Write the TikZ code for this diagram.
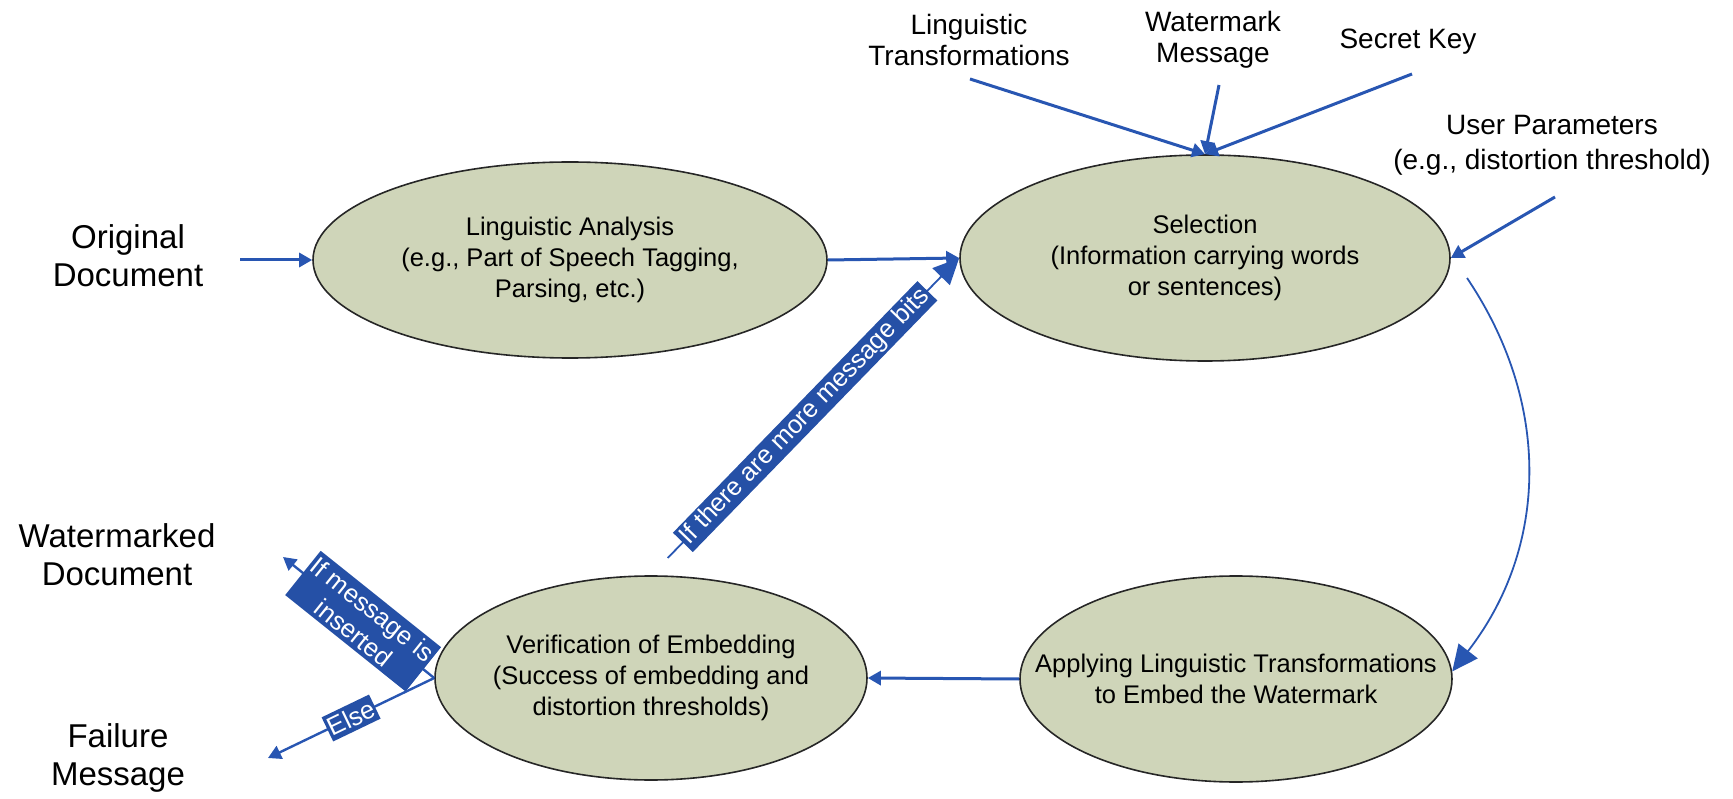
\documentclass[tikz,border=0pt]{standalone}
\usepackage{fontspec}
\setmainfont{Liberation Sans}
\usetikzlibrary{shapes.geometric,arrows.meta}
\definecolor{flow}{RGB}{40,86,178}
\definecolor{tagblue}{RGB}{37,80,166}
\definecolor{stagefill}{RGB}{207,213,185}
\begin{document}
\begin{tikzpicture}[x=1pt,y=-1pt,
  stage/.style={ellipse, draw=black!85, line width=1.6pt, fill=stagefill, inner sep=0pt},
  stagetext/.style={align=center, inner sep=0pt, font=\fontsize{25.5}{31}\selectfont},
  outer/.style={align=center, inner sep=0pt, font=\fontsize{33}{38}\selectfont},
  inlabel/.style={align=center, inner sep=0pt, font=\fontsize{28}{31}\selectfont},
  flowline/.style={draw=flow, line width=3pt},
  midline/.style={draw=flow, line width=2.4pt},
  thinline/.style={draw=flow, line width=1.8pt},
  smallhead/.style={-{Triangle[length=13pt,width=14pt]}},
  bighead/.style={-{Triangle[length=26pt,width=24pt]}},
  tag/.style={fill=tagblue, text=white, sloped, align=center,
    inner xsep=2.5pt, inner ysep=2pt, font=\fontsize{25.5}{29}\selectfont},
  bigtag/.style={tag, inner xsep=2pt, inner ysep=4pt, font=\fontsize{25.5}{30}\selectfont}
]
\useasboundingbox (0,0) rectangle (1733,799);

% processing stages (ellipse sized independently of its text)
\node[stage, minimum width=514pt, minimum height=196pt,
  label={[stagetext]center:Linguistic Analysis\\(e.g., Part of Speech Tagging,\\Parsing, etc.)}]
  (ling) at (570,260) {};
\node[stage, minimum width=490pt, minimum height=206pt,
  label={[stagetext]center:Selection\\(Information carrying words\\or sentences)}]
  (sel) at (1205,258) {};
\node[stage, minimum width=432pt, minimum height=206pt,
  label={[stagetext]center:Applying Linguistic Transformations\\to Embed the Watermark}]
  (app) at (1236,679) {};
\node[stage, minimum width=432pt, minimum height=204pt,
  label={[stagetext]center:Verification of Embedding\\(Success of embedding and\\distortion thresholds)}]
  (verif) at (651,678) {};

% inputs and outputs
\node[outer] (orig) at (128,256) {Original\\Document};
\node[outer] (wmdoc) at (117,555) {Watermarked\\Document};
\node[outer] (fail) at (118,758) {Failure\\Message};
\node[inlabel] (lt) at (969,40) {Linguistic\\Transformations};
\node[inlabel] (wmm) at (1213,40) {Watermark\\Message};
\node[inlabel] (sk) at (1408,42) {Secret Key};
\node[inlabel, font=\fontsize{28}{35}\selectfont] (up) at (1552,145)
  {User Parameters\\(e.g., distortion threshold)};

% free ends of the connectors
\coordinate (origout) at (240,260);
\coordinate (ltfoot) at (970,79);
\coordinate (wmmfoot) at (1219,85);
\coordinate (skfoot) at (1412,74);
\coordinate (upfoot) at (1555,197);
\coordinate (loopstart) at (1467,278);
\coordinate (wmtip) at (283,557);
\coordinate (failtip) at (268,758);

% connectors
\draw[flowline, smallhead] (origout) -- (ling.west);
\draw[flowline, smallhead] (ling.east) -- (sel.west);
\draw[flowline, smallhead] (ltfoot) -- (sel.north);
\draw[flowline, smallhead] (wmmfoot) -- (sel.north);
\draw[flowline, smallhead] (skfoot) -- (sel.north);
\draw[flowline, smallhead] (upfoot) -- (sel.east);
\draw[thinline, bighead] (loopstart) .. controls (1552,404) and (1548,548) .. (app.2);
\draw[flowline, smallhead] (app.west) -- (verif.east);
\draw[thinline, bighead, shorten <=24pt] (verif.north) --
  node[tag, pos=0.5] {If there are more message bits} (sel.west);
\draw[midline, smallhead] (verif.west) --
  node[bigtag, pos=0.47] {If message is\\inserted} (wmtip);
\draw[midline, smallhead] (verif.west) --
  node[bigtag, inner xsep=1.5pt] {Else} (failtip);
\end{tikzpicture}
\end{document}
